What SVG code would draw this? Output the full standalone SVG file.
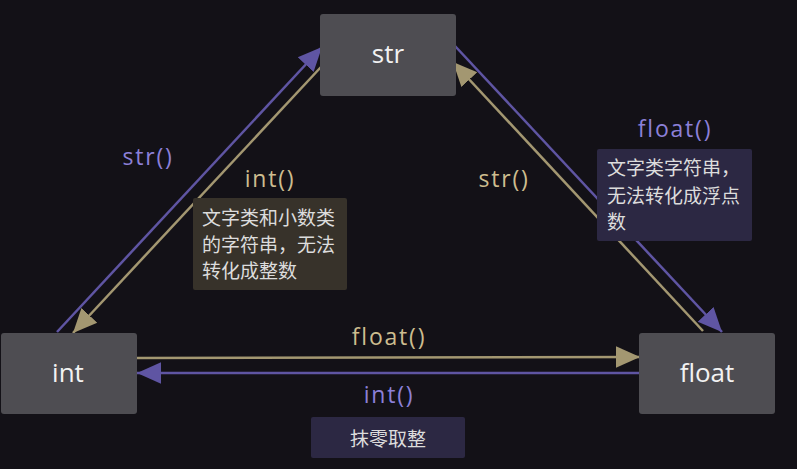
<svg xmlns="http://www.w3.org/2000/svg" width="797" height="469" viewBox="0 0 797 469">
<defs>
<style>
.node rect{fill:#4e4d52;}
.node text{fill:#f2f2f2;font-family:"Open Sans","Liberation Sans",sans-serif;font-size:26px;text-anchor:middle;}
.pl{stroke:#5f55a3;stroke-width:2.5;fill:none;}
.tl{stroke:#a39771;stroke-width:2.5;fill:none;}
.lab{font-family:"Open Sans","Liberation Sans",sans-serif;font-size:23px;letter-spacing:1.8px;text-anchor:middle;}
.pt{fill:#8c80d8;}
.tt{fill:#cdbd8f;}
.note{font-family:"Noto Sans CJK SC","Noto Sans",sans-serif;font-size:19px;fill:#dcdcdc;}
</style>
<marker id="ap" markerUnits="userSpaceOnUse" markerWidth="24" markerHeight="24" viewBox="0 0 20 18" refX="20" refY="9" orient="auto"><path d="M0,0 L20,9 L0,18 Z" fill="#5f55a3"/></marker>
<marker id="at" markerUnits="userSpaceOnUse" markerWidth="24" markerHeight="24" viewBox="0 0 20 18" refX="20" refY="9" orient="auto"><path d="M0,0 L20,9 L0,18 Z" fill="#a39771"/></marker>
</defs>
<rect width="797" height="469" fill="#131117"/>
<g id="connectors">
<line class="pl" x1="57" y1="332" x2="322" y2="47" marker-end="url(#ap)"/>
<line class="tl" x1="321" y1="67" x2="73" y2="333" marker-end="url(#at)"/>
<line class="pl" x1="455" y1="46" x2="722" y2="332" marker-end="url(#ap)"/>
<line class="tl" x1="703" y1="331" x2="453" y2="62" marker-end="url(#at)"/>
<line class="tl" x1="137" y1="358" x2="640" y2="357" marker-end="url(#at)"/>
<line class="pl" x1="639" y1="373" x2="137" y2="373" marker-end="url(#ap)"/>
</g>
<g id="labels">
<text class="lab pt" x="148" y="165">str()</text>
<text class="lab tt" x="270" y="187">int()</text>
<text class="lab tt" x="504" y="187">str()</text>
<text class="lab pt" x="675" y="137">float()</text>
<text class="lab tt" x="389" y="345">float()</text>
<text class="lab pt" x="389" y="403">int()</text>
</g>
<g id="note-int">
<rect x="193" y="198" width="154" height="92" rx="2" fill="#37322a"/>
<text class="note" x="202" y="225">文字类和小数类</text>
<text class="note" x="202" y="252">的字符串，无法</text>
<text class="note" x="202" y="278">转化成整数</text>
</g>
<g id="note-float">
<rect x="597" y="149" width="155" height="92" rx="2" fill="#2c2843"/>
<text class="note" x="607" y="175">文字类字符串，</text>
<text class="note" x="607" y="203">无法转化成浮点</text>
<text class="note" x="607" y="229">数</text>
</g>
<g id="note-trunc">
<rect x="311" y="417" width="154" height="41" rx="2" fill="#2c2843"/>
<text class="note" x="388" y="446" text-anchor="middle">抹零取整</text>
</g>
<g id="node-str" class="node">
<rect x="320" y="14" width="136" height="82" rx="3"/>
<text x="388" y="63">str</text>
</g>
<g id="node-int" class="node">
<rect x="1" y="333" width="136" height="81" rx="3"/>
<text x="68" y="382">int</text>
</g>
<g id="node-float" class="node">
<rect x="639" y="333" width="136" height="81" rx="3"/>
<text x="707" y="382">float</text>
</g>
</svg>
